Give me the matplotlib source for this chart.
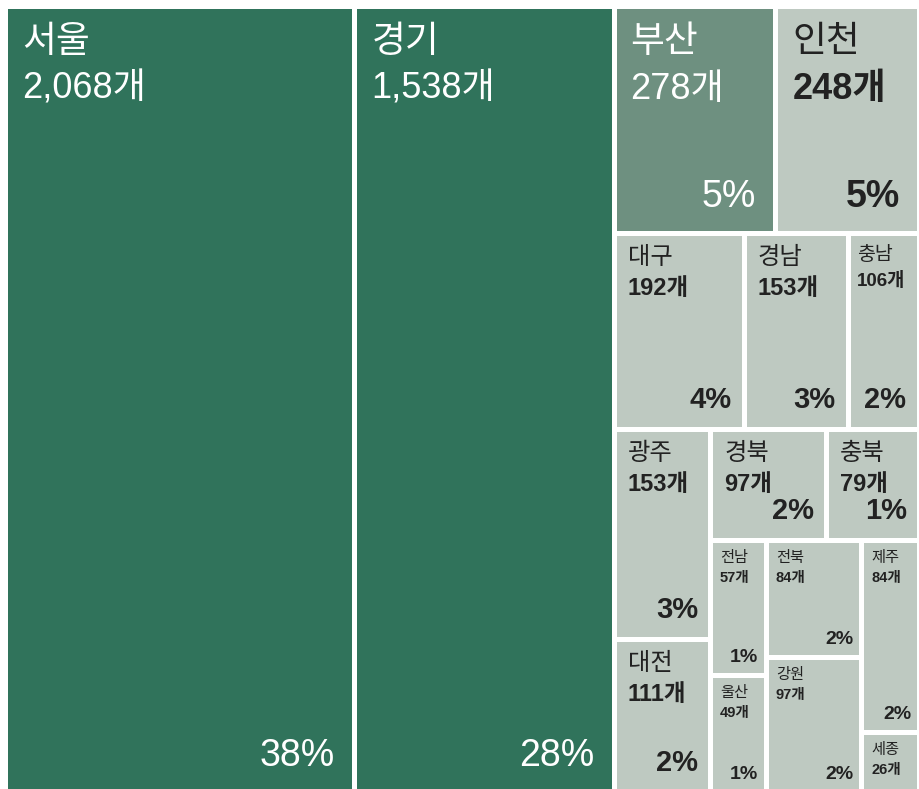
import matplotlib
matplotlib.use('Agg')
import matplotlib.pyplot as plt
from matplotlib.patches import Rectangle

# Arial-like digits, Hangul from Noto
plt.rcParams['font.family'] = ['Liberation Sans', 'Noto Sans CJK KR', 'DejaVu Sans']

# data
regions = ['서울', '경기', '부산', '인천', '대구', '경남', '충남', '광주', '경북',
           '충북', '대전', '전남', '전북', '제주', '울산', '강원', '세종']
counts = [2068, 1538, 278, 248, 192, 153, 106, 153, 97,
          79, 111, 57, 84, 84, 49, 97, 26]

# nesting of the treemap ('h' = side by side, 'v' = stacked)
tree = ('h', ['서울', '경기',
              ('v', [('h', ['부산', '인천']),
                     ('h', ['대구', '경남', '충남']),
                     ('h', [('v', ['광주', '대전']),
                            ('v', [('h', ['경북', '충북']),
                                   ('h', [('v', ['전남', '울산']),
                                          ('v', ['전북', '강원']),
                                          ('v', ['제주', '세종'])])])])])])

value = dict(zip(regions, counts))
total = sum(counts)

# styles
dark, mid, light = '#30735b', '#6e9080', '#bec9c1'
fill = {'서울': dark, '경기': dark, '부산': mid}
tier = {'서울': 'L', '경기': 'L', '부산': 'L', '인천': 'L',
        '대구': 'M', '경남': 'M', '광주': 'M', '경북': 'M', '충북': 'M', '대전': 'M',
        '충남': 'S'}
# name pt, count pt, pct pt, pad x, pad y, count offset, pct pad x, pct pad y (px)
sizes = {'L': (26.5, 26, 27, 17, 19, 47, 19, 18),
         'M': (17.5, 17, 21, 14, 14, 30, 12, 15),
         'S': (14, 13.5, 21, 9, 13, 26, 13, 15),
         'T': (11, 10.5, 14, 10, 11, 20, 8, 9)}


def node_sum(node):
    if isinstance(node, str):
        return value[node]
    return sum(node_sum(k) for k in node[1])


def layout(node, x, y, w, h, out):
    if isinstance(node, str):
        out[node] = (x, y, w, h)
        return
    orient, kids = node
    s = node_sum(node)
    pos = x if orient == 'h' else y
    for k in kids:
        frac = node_sum(k) / s
        if orient == 'h':
            layout(k, pos, y, w * frac, h, out)
            pos += w * frac
        else:
            layout(k, x, pos, w, h * frac, out)
            pos += h * frac


W, H = 920, 789
fig = plt.figure(figsize=(W / 100, H / 100), dpi=100)
ax = fig.add_axes([0, 0, 1, 1])
ax.set_xlim(0, W)
ax.set_ylim(H, 0)
ax.axis('off')

cells = {}
layout(tree, 5.5, 5.5, W - 6, H - 3, cells)

for name in regions:
    x, y, w, h = cells[name]
    color = fill.get(name, light)
    ax.add_patch(Rectangle((x, y), w, h, facecolor=color, edgecolor='white', linewidth=3.6))
    txt = 'white' if color != light else '#222222'
    ns, cs, ps, px, py, off, qx, qy = sizes[tier.get(name, 'T')]
    ax.text(x + px, y + py, name, fontsize=ns, color=txt, va='top', ha='left')
    ax.text(x + px, y + py + off, f'{value[name]:,}개', fontsize=cs, color=txt,
            va='top', ha='left', fontweight='normal' if color != light else 'bold')
    pct = round(value[name] / total * 100)
    if pct > 0:
        ax.text(x + w - qx, y + h - qy, f'{pct}%', fontsize=ps, color=txt,
                va='bottom', ha='right',
                fontweight='normal' if color != light else 'bold')

fig.savefig('out.png', dpi=100)
